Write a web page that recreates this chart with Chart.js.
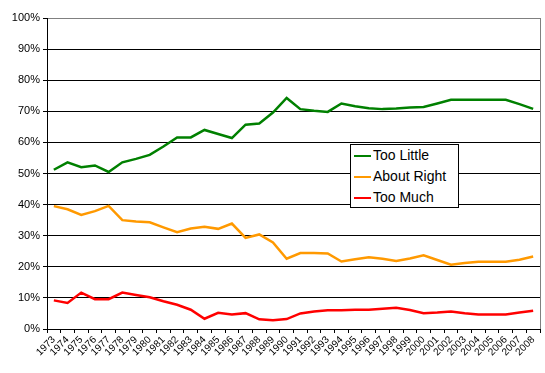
<!DOCTYPE html>
<html>
<head>
<meta charset="utf-8">
<script src="https://cdn.jsdelivr.net/npm/chart.js@4/dist/chart.umd.min.js"></script>
<style>
  body { margin: 0; background: #fff; }
  #wrap { position: relative; width: 545px; height: 373px; }
  #legend {
    position: absolute; left: 350px; top: 144px; width: 107px; height: 62px;
    border: 1px solid #000; background: #fff; font-family: Arial, "Liberation Sans", sans-serif;
    font-size: 14px; color: #000;
  }
  #legend div { height: 21px; line-height: 21px; white-space: nowrap; }
  #legend span.swatch { display: inline-block; width: 17px; height: 2px; margin: 0 2px 0 3px; vertical-align: middle; }
</style>
</head>
<body>
<div id="wrap">
  <canvas id="chart" width="545" height="373"></canvas>
  <div id="legend"></div>
</div>
<script>
// years 1973..2008, one category each
const years = [
  '1973', '1974', '1975', '1976', '1977', '1978', '1979', '1980', '1981', '1982',
  '1983', '1984', '1985', '1986', '1987', '1988', '1989', '1990', '1991', '1992',
  '1993', '1994', '1995', '1996', '1997', '1998', '1999', '2000', '2001', '2002',
  '2003', '2004', '2005', '2006', '2007', '2008'
];

const tooLittle = [
  51.2, 53.6, 52.0, 52.6, 50.5, 53.6, 54.7, 56.0, 58.7, 61.6,
  61.6, 64.0, 62.7, 61.4, 65.7, 66.1, 69.6, 74.3, 70.7, 70.2,
  69.8, 72.5, 71.6, 71.0, 70.7, 70.9, 71.2, 71.4, 72.5, 73.7,
  73.7, 73.7, 73.7, 73.7, 72.3, 70.8
];

const aboutRight = [
  39.5, 38.5, 36.7, 37.9, 39.6, 35.0, 34.6, 34.3, 32.7, 31.1,
  32.3, 32.9, 32.2, 33.9, 29.3, 30.4, 27.8, 22.6, 24.4, 24.4,
  24.3, 21.7, 22.4, 23.1, 22.6, 21.9, 22.7, 23.7, 22.2, 20.7,
  21.2, 21.6, 21.6, 21.6, 22.3, 23.3
];

const tooMuch = [
  9.2, 8.4, 11.7, 9.6, 9.6, 11.7, 10.9, 10.2, 8.9, 7.8,
  6.2, 3.3, 5.2, 4.7, 5.1, 3.1, 2.8, 3.2, 5.0, 5.6,
  6.0, 6.0, 6.2, 6.2, 6.5, 6.8, 6.1, 5.1, 5.3, 5.6,
  5.1, 4.7, 4.7, 4.7, 5.3, 5.9
];

const seriesNames = ['Too Little', 'About Right', 'Too Much'];
const seriesColors = ['#008000', '#FF9900', '#FF0000'];
const seriesData = [tooLittle, aboutRight, tooMuch];

const font = 'Arial, "Liberation Sans", sans-serif';

// grey border on the right side of the plot area
const plotBorder = {
  id: 'plotBorder',
  beforeDatasetsDraw(chart) {
    const { ctx, chartArea } = chart;
    ctx.save();
    ctx.strokeStyle = '#808080';
    ctx.lineWidth = 1;
    ctx.beginPath();
    ctx.moveTo(chartArea.right + 0.5, chartArea.top);
    ctx.lineTo(chartArea.right + 0.5, chartArea.bottom);
    ctx.stroke();
    ctx.restore();
  }
};

const chart = new Chart(document.getElementById('chart'), {
  type: 'line',
  data: {
    labels: years,
    datasets: seriesNames.map((name, i) => ({
      label: name,
      data: seriesData[i],
      borderColor: seriesColors[i],
      backgroundColor: seriesColors[i],
      borderWidth: 2.5,
      pointRadius: 0,
      tension: 0,
      fill: false
    }))
  },
  options: {
    responsive: false,
    animation: false,
    layout: { padding: { top: 18, right: 5, left: 0, bottom: 0 } },
    plugins: {
      legend: { display: false },
      tooltip: { enabled: false }
    },
    scales: {
      x: {
        offset: true,
        afterFit: (s) => { s.height = 44; },
        grid: { drawOnChartArea: false, drawTicks: true, tickLength: 4, color: '#000', offset: true },
        border: { color: '#000', width: 1 },
        ticks: {
          autoSkip: false, minRotation: 45, maxRotation: 45,
          color: '#000', padding: 1,
          font: { family: font, size: 10 }
        }
      },
      y: {
        min: 0,
        max: 100,
        afterFit: (s) => { s.width = 47; },
        grid: {
          color: (c) => (c.tick && c.tick.value === 100 ? '#808080' : '#000'),
          tickColor: '#000',
          tickLength: 4,
          lineWidth: 1
        },
        border: { color: '#000', width: 1 },
        ticks: {
          stepSize: 10,
          color: '#000',
          padding: 3,
          font: { family: font, size: 11 },
          callback: (v) => v + '%'
        }
      }
    }
  },
  plugins: [plotBorder]
});

// html legend built from the datasets
const legend = document.getElementById('legend');
chart.data.datasets.forEach((ds) => {
  const row = document.createElement('div');
  const sw = document.createElement('span');
  sw.className = 'swatch';
  sw.style.background = ds.borderColor;
  row.appendChild(sw);
  row.appendChild(document.createTextNode(ds.label));
  legend.appendChild(row);
});
</script>
</body>
</html>
